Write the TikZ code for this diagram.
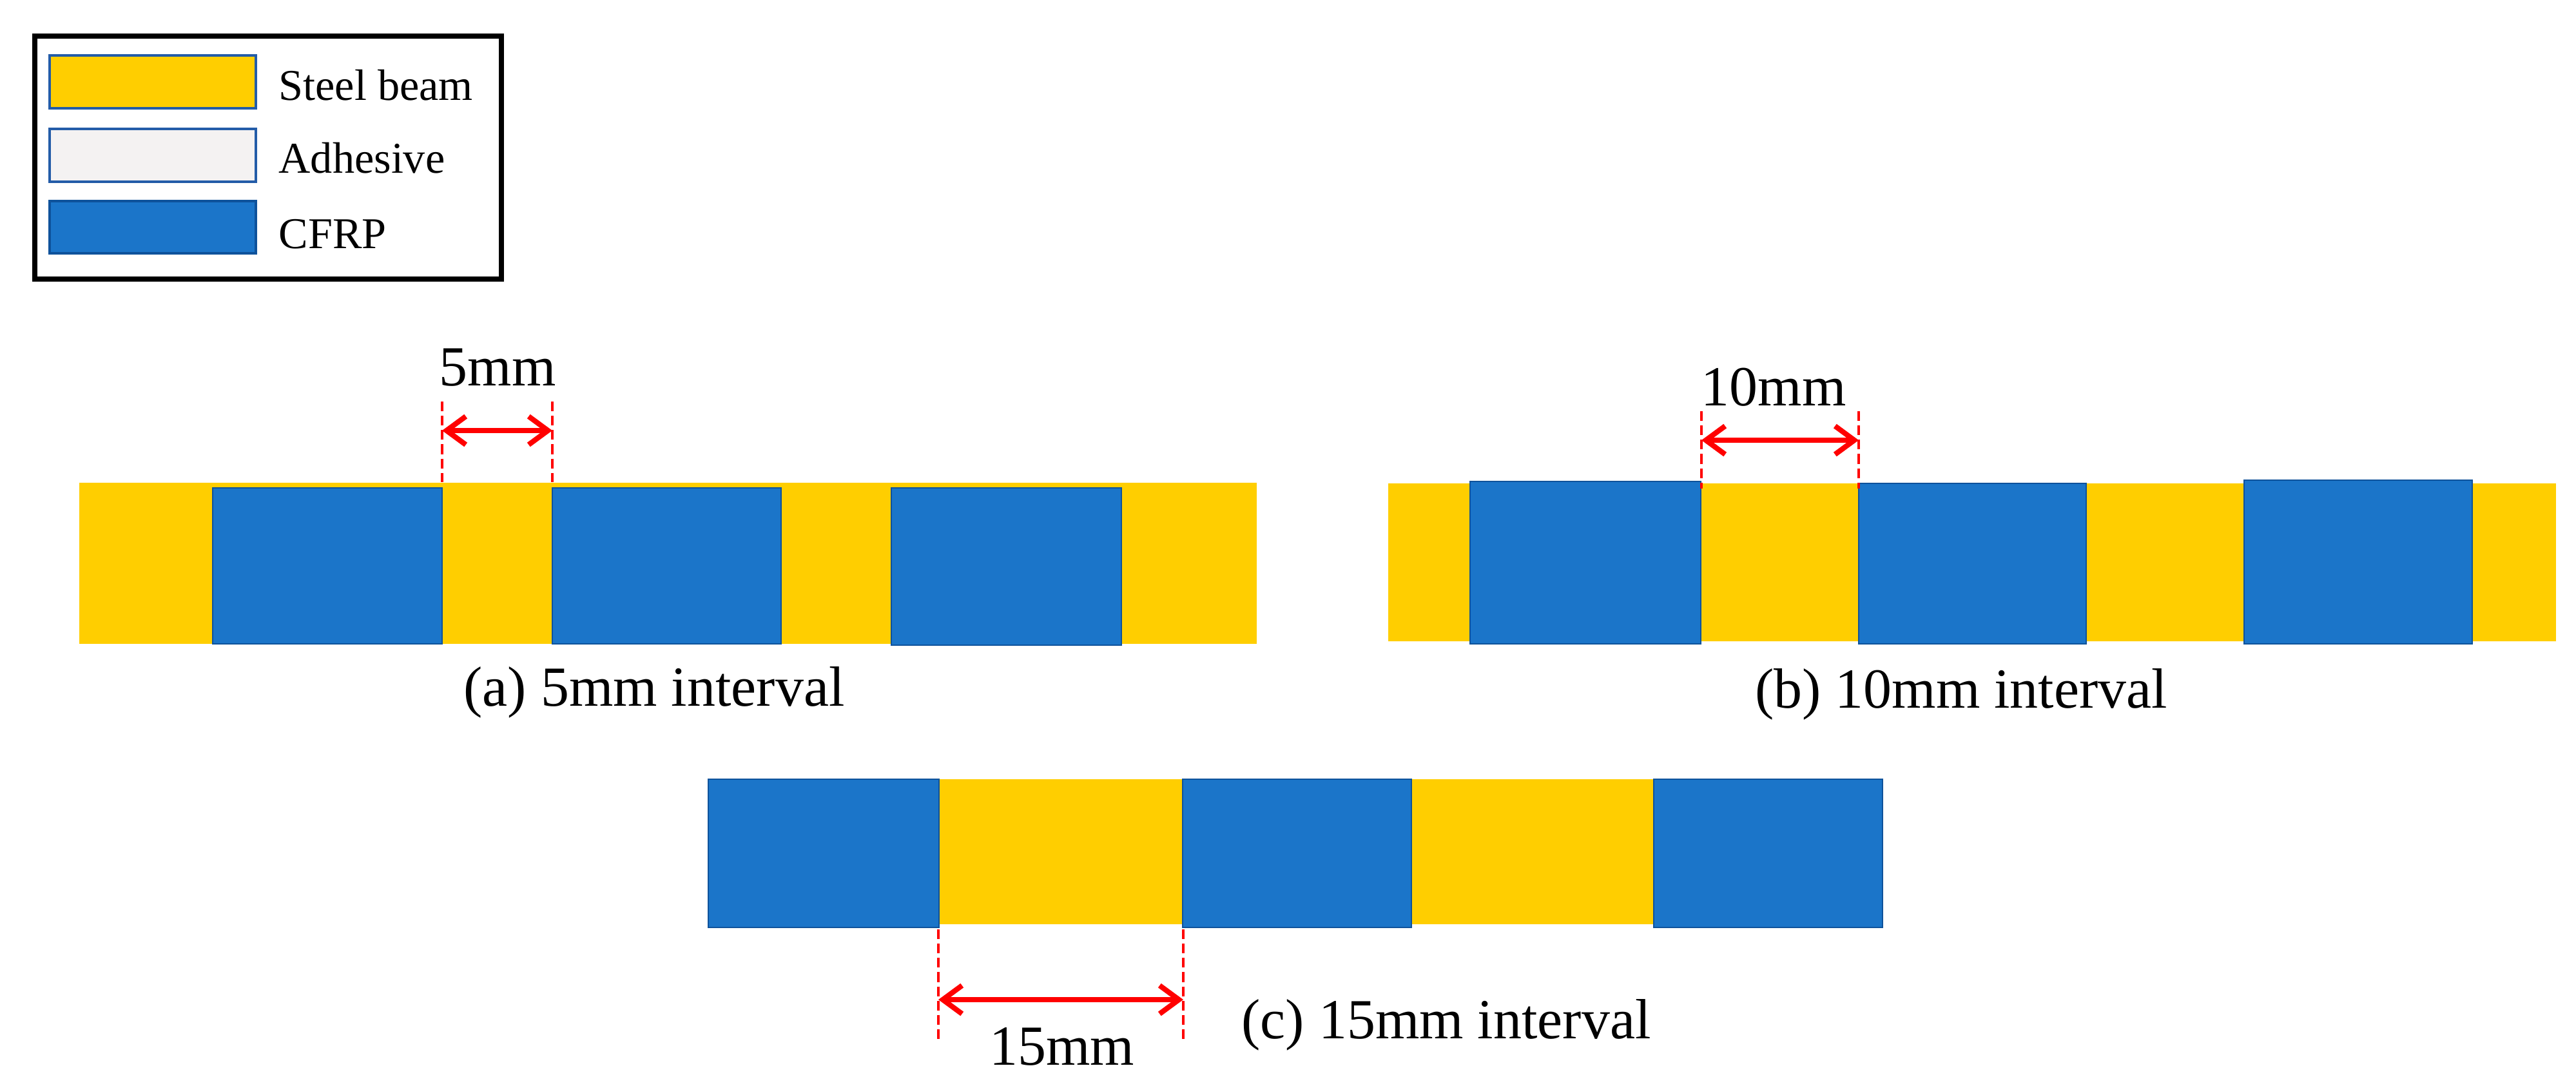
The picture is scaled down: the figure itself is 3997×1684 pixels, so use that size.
\documentclass[tikz,border=0pt]{standalone}
\usepackage{fontspec}
\setmainfont{Liberation Serif}
\usetikzlibrary{arrows.meta,fit}
\definecolor{steel}{RGB}{255,206,0}
\definecolor{cfrp}{RGB}{27,117,201}
\definecolor{cfrpedge}{RGB}{14,82,155}
\definecolor{adh}{RGB}{244,242,242}
\definecolor{swatchedge}{RGB}{35,92,168}
\definecolor{dimred}{RGB}{255,0,0}
\begin{document}
\begin{tikzpicture}[x=0.01cm,y=-0.01cm,
  steelbox/.style={fill=steel, draw=none, inner sep=0, outer sep=0},
  patch/.style={fill=cfrp, draw=cfrpedge, line width=0.8pt, inner sep=0, outer sep=0},
  swatch/.style={draw=swatchedge, line width=0.9pt, inner sep=0, outer sep=0},
  dimline/.style={draw=dimred, line width=1.1pt, dash pattern=on 4.3pt off 2pt},
  dimarrow/.style={draw=dimred, line width=2.3pt,
    {Straight Barb[length=8.5pt,width=12.5pt]}-{Straight Barb[length=8.5pt,width=12.5pt]}},
  lbl/.style={font=\fontsize{25}{30}\selectfont, inner sep=0, anchor=base},
  legtext/.style={font=\fontsize{19.4}{23}\selectfont, inner sep=0, anchor=base west}]
\useasboundingbox (0,0) rectangle (3997,1684);

% ---------- legend ----------
\node[draw=black, line width=2.1pt, inner sep=0, fit={(54,56) (778,433)}] (legend) {};
\node[swatch, fill=steel, fit={(77,86) (397,168)}] (sw1) {};
\node[swatch, fill=adh, fit={(77,200) (397,282)}] (sw2) {};
\node[swatch, fill=cfrp, draw=cfrpedge, fit={(77,312) (397,393)}] (sw3) {};
\node[legtext] (lt1) at (432,155) {Steel beam};
\node[legtext] (lt2) at (432,268) {Adhesive};
\node[legtext] (lt3) at (432,385) {CFRP};

% ---------- (a) 5 mm ----------
\node[steelbox, fit={(123,749) (1950,999)}] (beamA) {};
\node[patch, fit={(330,757) (686,999)}] (pa1) {};
\node[patch, fit={(857,757) (1212,999)}] (pa2) {};
\node[patch, fit={(1383,757) (1740,1001)}] (pa3) {};
\coordinate (aLt) at (686,623);
\coordinate (aLb) at (686,748);
\coordinate (aRt) at (857,623);
\coordinate (aRb) at (857,748);
\coordinate (aLm) at (686,668);
\coordinate (aRm) at (857,668);
\draw[dimline] (aLt) -- (aLb);
\draw[dimline] (aRt) -- (aRb);
\draw[dimarrow] (aLm) -- (aRm);
\node[lbl] (la) at (772,598) {5mm};
\node[lbl] (capa) at (1015,1095) {(a) 5mm interval};

% ---------- (b) 10 mm ----------
\node[steelbox, fit={(2154,750) (3966,995)}] (beamB) {};
\node[patch, fit={(2281,747) (2639,999)}] (pb1) {};
\node[patch, fit={(2884,750) (3237,999)}] (pb2) {};
\node[patch, fit={(3482,745) (3836,999)}] (pb3) {};
\coordinate (bLt) at (2640,638);
\coordinate (bLb) at (2640,758);
\coordinate (bRt) at (2884,638);
\coordinate (bRb) at (2884,758);
\coordinate (bLm) at (2640,683);
\coordinate (bRm) at (2884,683);
\draw[dimline] (bLt) -- (bLb);
\draw[dimline] (bRt) -- (bRb);
\draw[dimarrow] (bLm) -- (bRm);
\node[lbl] (lb) at (2752,629) {10mm};
\node[lbl] (capb) at (3043,1098) {(b) 10mm interval};

% ---------- (c) 15 mm ----------
\node[steelbox, fit={(1099,1209) (2921,1434)}] (beamC) {};
\node[patch, fit={(1099,1209) (1457,1439)}] (pc1) {};
\node[patch, fit={(1835,1209) (2190,1439)}] (pc2) {};
\node[patch, fit={(2566,1209) (2921,1439)}] (pc3) {};
\coordinate (cLt) at (1456,1442);
\coordinate (cLb) at (1456,1612);
\coordinate (cRt) at (1836,1442);
\coordinate (cRb) at (1836,1612);
\coordinate (cLm) at (1456,1551);
\coordinate (cRm) at (1836,1551);
\draw[dimline] (cLt) -- (cLb);
\draw[dimline] (cRt) -- (cRb);
\draw[dimarrow] (cLm) -- (cRm);
\node[lbl] (lc) at (1648,1652) {15mm};
\node[lbl] (capc) at (2244,1611) {(c) 15mm interval};
\end{tikzpicture}
\end{document}
